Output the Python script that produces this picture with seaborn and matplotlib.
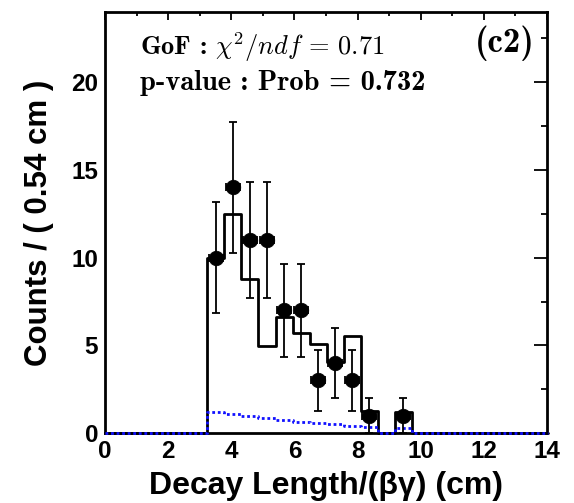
import numpy as np
import pandas as pd
import matplotlib
matplotlib.use("Agg")
import matplotlib.pyplot as plt
import seaborn as sns
from matplotlib.ticker import MultipleLocator

# binning: 26 bins of 0.54 cm starting at 0
bin_width = 0.54
edges = [round(i * bin_width, 3) for i in range(27)]
centers = [e + bin_width / 2 for e in edges[:-1]]

# observed counts per bin
data_counts = [0, 0, 0, 0, 0, 0, 10, 14, 11, 11, 7, 7, 3, 4, 3, 1, 0, 1,
               0, 0, 0, 0, 0, 0, 0, 0]
# total model (black step)
model_vals = [0, 0, 0, 0, 0, 0, 10.0, 12.5, 8.77, 4.97, 6.63, 5.68, 5.07, 4.06,
              5.55, 1.27, 0, 1.23, 0, 0, 0, 0, 0, 0, 0, 0]
# background component (blue dotted)
bkg_vals = [0, 0, 0, 0, 0, 0, 1.22, 1.08, 1.0, 0.85, 0.74, 0.65, 0.58, 0.5,
            0.42, 0.35, 0, 0.28, 0, 0, 0, 0, 0, 0, 0, 0]

df = pd.DataFrame({"x": centers, "n": data_counts, "model": model_vals, "bkg": bkg_vals})
pts = df[df["n"] > 0]

sns.set_theme(style="white")
plt.rcParams["font.family"] = ["Liberation Sans", "DejaVu Sans"]
plt.rcParams["mathtext.fontset"] = "cm"
for key in ["text.color", "axes.labelcolor", "xtick.color", "ytick.color"]:
    plt.rcParams[key] = "black"

fig = plt.figure(figsize=(5.74, 5.03), dpi=100)
ax = fig.add_axes([0.183, 0.139, 0.770, 0.837])

sns.histplot(data=df, x="x", weights="model", bins=edges, element="step",
             fill=False, color="black", linewidth=2, ax=ax, zorder=3, clip_on=False)
sns.histplot(data=df, x="x", weights="bkg", bins=edges, element="step",
             fill=False, color="#1010ff", linewidth=2, linestyle=(0, (1, 1)),
             ax=ax, zorder=3.5, clip_on=False)

ax.errorbar(pts["x"], pts["n"], yerr=np.sqrt(pts["n"]), xerr=0.22, fmt="none",
            ecolor="black", elinewidth=1.3, capsize=3, capthick=1.3, zorder=4)
sns.scatterplot(data=pts, x="x", y="n", color="black", s=110, marker="o",
                edgecolor="black", linewidth=0.5, ax=ax, zorder=5)

ax.set_xlim(0, 14)
ax.set_ylim(0, 24)
ax.xaxis.set_major_locator(MultipleLocator(2))
ax.xaxis.set_minor_locator(MultipleLocator(1))
ax.yaxis.set_major_locator(MultipleLocator(5))
ax.yaxis.set_minor_locator(MultipleLocator(2.5))
ax.tick_params(which="both", direction="in", top=True, right=True, width=1.3,
               labelsize=17.5, colors="black")
ax.tick_params(axis="x", which="major", length=5.5, pad=5)
ax.tick_params(axis="x", which="minor", length=3)
ax.tick_params(axis="y", which="major", length=9.5, pad=5)
ax.tick_params(axis="y", which="minor", length=4.5)
for lab in ax.get_xticklabels() + ax.get_yticklabels():
    lab.set_fontweight("bold")
for sp in ax.spines.values():
    sp.set_linewidth(2)
    sp.set_color("black")

ax.set_xlabel("Decay Length/(βγ) (cm)", fontsize=23, fontweight="bold", labelpad=6)
ax.set_ylabel("Counts / ( 0.54 cm )", fontsize=22.5, fontweight="bold", labelpad=12)

ax.text(0.079, 0.917, r"GoF : $\chi^2/ndf\,=\,0.71$", transform=ax.transAxes,
        fontsize=19, family="cmb10", va="center", ha="left")
ax.text(0.079, 0.832, "p-value : Prob = 0.732", transform=ax.transAxes,
        fontsize=20.5, family="cmb10", va="center", ha="left")
ax.text(0.973, 0.926, "(c2)", transform=ax.transAxes,
        fontsize=25, family="cmb10", va="center", ha="right")

fig.savefig("out.png", dpi=100)
